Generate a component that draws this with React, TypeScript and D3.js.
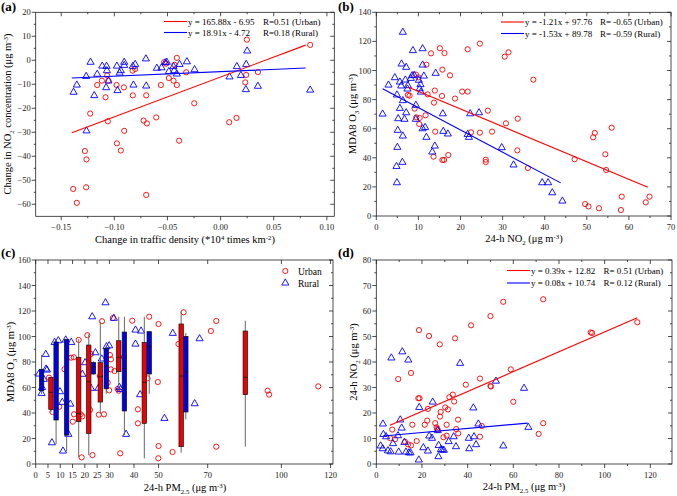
import * as d3 from 'd3';

const W = 677;
const H = 496;
const FONT = '"Liberation Serif", "Times New Roman", serif';
const RED = '#ff0000';
const BLUE = '#0000ff';

// ---- (a) change in traffic density vs change in NO2
const trafficUrban = [-0.1387, -0.1353, -0.1265, -0.1262, -0.1277, -0.1227, -0.1161, -0.1117, -0.1083, -0.1067, -0.1055, -0.1061, -0.0979, -0.0976, -0.0939, -0.0907, -0.091, -0.0826, -0.0829, -0.0804, -0.0725, -0.07, -0.0694, -0.07, -0.0606, -0.0562, -0.0531, -0.0487, -0.0443, -0.0434, -0.0412, -0.0412, -0.039, -0.0324, -0.0248, 0.0081, 0.015, 0.0232, 0.0241, 0.0247, 0.0351, 0.0843, -0.0512];
const no2ChangeUrban = [-53.6, -59.4, -52.9, -41.3, -37.8, -22.2, -10.3, -8.5, -15.4, -6.3, -8.5, -25.4, -10.3, -34.6, -37.6, -29.4, -11.3, -14.6, -4.3, -3.6, -25.1, -14.6, -26.3, -56.1, -23.8, -10.3, -0.8, -7.4, -8.5, -1.9, 1.0, -10.3, -33.5, -5.0, -17.9, -25.8, -24.0, -9.2, -6.1, 8.6, -4.9, 6.4, -1.4];
const trafficRural = [-0.1384, -0.1353, -0.1265, -0.1262, -0.1224, -0.1189, -0.1161, -0.1114, -0.1073, -0.107, -0.1077, -0.1055, -0.0976, -0.097, -0.0951, -0.0939, -0.0907, -0.0907, -0.0826, -0.082, -0.0804, -0.0703, -0.07, -0.06, -0.0556, -0.0521, -0.0506, -0.0487, -0.0443, -0.0437, -0.0412, -0.0386, -0.0317, -0.0245, 0.0084, 0.0153, 0.0191, 0.0238, 0.0241, 0.025, 0.0351, 0.0843];
const no2ChangeRural = [-13.3, -10.3, -6.7, -29.4, -0.8, -14.7, -5.8, -2.4, -2.5, -4.3, -11.4, -8.6, -2.4, -12.6, -5.3, -4.3, -0.8, -2.1, -2.5, -10.3, -1.7, 0.6, -10.7, -3.3, -3.1, -1.0, -0.8, -4.7, -2.6, -4.3, -5.7, -1.7, -0.6, -3.9, -6.9, -2.6, -6.3, -12.2, -1.7, 3.9, -10.8, -12.4];

// ---- (b) 24-h NO2 vs MDA8 O3
const no2Urban = [9.4, 10.0, 7.5, 7.9, 9.1, 9.5, 10.3, 10.2, 11.7, 11.9, 13.0, 12.2, 13.7, 13.9, 14.0, 13.6, 15.1, 15.6, 15.7, 16.2, 15.7, 16.1, 17.1, 17.5, 18.7, 20.4, 21.7, 21.7, 22.5, 24.6, 24.6, 26.0, 26.0, 26.5, 27.5, 30.8, 30.5, 31.4, 33.6, 33.5, 36.0, 37.3, 47.1, 49.6, 50.4, 52.9, 51.5, 51.9, 54.4, 54.6, 55.9, 58.1, 58.3, 64.0, 64.9];
const o3UrbanB = [97.2, 95.3, 83.2, 82.7, 73.8, 67.8, 67.4, 63.2, 69.2, 104, 111.8, 83.6, 77.9, 86.2, 58, 40.8, 115.3, 82.5, 100.6, 112, 38.5, 38.5, 41.9, 96.7, 80.7, 85.5, 85.5, 114.6, 57.5, 118.5, 57.3, 37.1, 38.7, 72.4, 58, 63.7, 109.5, 112.5, 66.9, 45.1, 33.0, 93.7, 39.0, 8.2, 6.6, 5.3, 54.1, 57.1, 42.4, 31.6, 60.7, 4.1, 13.3, 9.4, 13.3];
const no2Rural = [1.5, 2.9, 4.4, 4.8, 5.0, 4.9, 4.9, 5.2, 5.1, 5.6, 5.6, 5.9, 6.0, 6.3, 6.3, 6.2, 6.3, 6.7, 6.9, 7.1, 7.1, 7.4, 7.5, 8.2, 8.5, 8.7, 9.0, 9.4, 9.4, 10.1, 10.3, 10.5, 10.6, 11.0, 11.0, 11.0, 11.3, 11.6, 11.9, 13.3, 13.9, 14.1, 15.8, 15.9, 17.0, 21.7, 22.0, 22.3, 24.4, 29.8, 32.6, 39.4, 40.8, 41.8, 44.2];
const o3RuralB = [70.1, 90, 95.1, 34.1, 47.2, 22.9, 83.2, 66.9, 58.9, 74, 92.1, 89.4, 104.5, 79.3, 55, 36.9, 126.3, 66.5, 93.5, 102.2, 71, 87.3, 89.6, 94.6, 96.5, 113.7, 96.7, 66.5, 76.1, 93.3, 87.5, 90.3, 85.2, 103.8, 60.0, 115, 96.2, 60.9, 54.1, 44, 48.1, 98.1, 70.3, 58.2, 56.4, 56.1, 54.1, 70.3, 71, 47, 35.1, 22.9, 22.9, 16.0, 10.3];

// ---- (c) 24-h PM2.5 vs MDA8 O3
const pmUrbanC = [5.4, 6.8, 9.6, 11.7, 14.4, 15.5, 15.1, 15.6, 17.5, 18.7, 18.3, 19, 21, 22.1, 23.1, 22.5, 27, 25.7, 27.8, 26.1, 29.3, 29.9, 30.2, 30.6, 30.6, 31.4, 32.1, 33.3, 33.8, 34.4, 35.9, 39.3, 41.6, 41.6, 45.5, 46.2, 50, 49.7, 50, 49.9, 55.7, 58.1, 60.2, 71.3, 73.5, 73.5, 94.4, 95, 115];
const o3UrbanC = [67.7, 40.8, 44.9, 74.3, 83.4, 83.7, 33.2, 39, 97.3, 5.2, 39, 37.4, 101, 42.4, 7, 86.3, 112, 38.7, 39, 69, 63.8, 57.8, 85.5, 82.1, 74.2, 114.5, 72.9, 58.8, 57.5, 8.4, 83.9, 112.4, 42.9, 31.9, 67.2, 115.5, 109.8, 64.3, 14.1, 4.5, 9.4, 94.1, 119, 104.3, 112.2, 13.6, 57.5, 54.4, 60.9];
const pmRuralC = [1.3, 2.4, 2.6, 3.3, 4.2, 4.1, 4.6, 6.6, 7.7, 9.2, 9.9, 10.8, 11.1, 12.2, 13.3, 14.1, 14.5, 19, 20.1, 23, 24.3, 22.5, 25.5, 26.9, 28.4, 28.8, 29.9, 31.8, 34.1, 34.6, 36.8, 40.6, 42.9, 40.6, 42.5, 52.4, 55.8, 66.7, 64.7];
const o3RuralC = [70.6, 55.4, 60, 66.4, 74.5, 86, 73.7, 16.7, 95.4, 96.7, 56.7, 48.4, 10.2, 97.3, 23.3, 47, 95.4, 70.4, 79.5, 115.5, 87.3, 59.4, 59.4, 82.4, 126.5, 92, 92.8, 114.3, 60.1, 58.5, 23.3, 105.1, 104.3, 94.1, 54.4, 35.8, 102.5, 98.3, 47.3];

// box plots in (c)
const boxPM = [2.4, 6.2, 8.3, 12.6, 17.5, 21.6, 23.5, 26.3, 28.7, 33.8, 36.1, 44.2, 46.2, 59.2, 61.1, 85.3];
const boxGroup = ['R', 'U', 'R', 'R', 'U', 'U', 'R', 'U', 'R', 'U', 'R', 'U', 'R', 'U', 'R', 'U'];
const boxMin = [54.9, 40.4, 15.7, 9.7, 5.3, 7, 70, 39.5, 55, 57.4, 22.7, 4.4, 55, 8.9, 35, 13.6];
const boxQ1 = [57.5, 42.9, 34.5, 22.7, 33.2, 24, 70.6, 48.6, 59, 72.4, 41.6, 31.9, 70.6, 13.6, 40.8, 54.4];
const boxMed = [65.9, 56.2, 66, 47, 39.7, 64.5, 76, 68.5, 77, 83.7, 75, 64, 92, 69, 72.4, 68];
const boxQ3 = [74.3, 68, 95.7, 97.8, 83.7, 93.3, 79.7, 79.5, 90.7, 96.7, 103.5, 95.4, 103.8, 109.8, 100.1, 104.3];
const boxMax = [85.6, 68, 97, 97.8, 97.8, 101.7, 80.5, 111.6, 92, 115.5, 115.5, 115.5, 103.8, 119.5, 102.7, 112.4];

// ---- (d) 24-h PM2.5 vs 24-h NO2
const pmUrbanD = [18.7, 23.1, 27.8, 34.5, 41.5, 50, 55.6, 73.1, 9.6, 15.2, 18.4, 18.9, 22.6, 27.9, 30.2, 31.4, 32, 33.5, 34.1, 39.2, 45.4, 50, 50.2, 58.9, 60, 7, 6.1, 8.2, 12.6, 13.9, 15.2, 15.8, 17.7, 21.2, 22.3, 25.8, 26.4, 26.7, 26.9, 29.4, 30.8, 30.8, 28.2, 35, 35.9, 35.8, 45.4, 46.2, 71.1, 73.1, 93.9, 94.5, 114.3];
const no2UrbanD = [52.5, 50.2, 46.9, 49.3, 54.4, 58, 63.6, 64.6, 33.3, 35.7, 25.8, 25.8, 21.6, 18.6, 22.2, 21.4, 26.2, 27.2, 24.5, 31.1, 33.5, 30.6, 30.4, 37.1, 24.4, 13.5, 10.1, 9.7, 8.7, 7.7, 7.3, 15.4, 9, 15.4, 17, 16, 14.4, 13.8, 13.3, 10.5, 11.1, 15.4, 20.4, 13.7, 12, 17.4, 10.7, 14.9, 11.8, 16, 51.6, 51.4, 55.6];
const pmRuralD = [6.6, 11.4, 14, 36.7, 52.4, 42.5, 24.7, 18.8, 2.9, 10.5, 11.1, 44.7, 3.1, 4.3, 7.3, 9.5, 1.9, 2.8, 5.1, 6.3, 9.8, 12.3, 13, 14.3, 15, 18.6, 20.6, 22.6, 23.2, 24.4, 26.9, 27.3, 27.2, 28.3, 29, 29.6, 31.7, 33.9, 34.9, 40.5, 40.7, 42.8, 43.7, 55.6, 64.7, 66.6];
const no2RuralD = [41.6, 44, 40.8, 39.5, 32.5, 22, 24.3, 22.2, 15.7, 17.3, 14.1, 15.7, 11.6, 10.7, 8, 11.1, 7.1, 6, 5.2, 4.8, 4.7, 8.5, 4.7, 4.4, 4.4, 1.6, 6.4, 5.1, 11, 10.1, 13.1, 7.3, 2.9, 5.7, 5.5, 5.4, 8.8, 10.7, 6.8, 10.1, 6, 10.7, 7.6, 7.1, 29.7, 14.4];

// regression lines: [slope, intercept, xStart, xEnd]
const fitA = { urban: [165.88, -6.95, -0.14, 0.08], rural: [18.91, -4.72, -0.14, 0.08] };
const fitB = { urban: [-1.21, 97.76, 7.5, 64.5], rural: [-1.53, 89.78, 1.5, 43.8] };
const fitD = { urban: [0.39, 12.82, 6, 114.3], rural: [0.08, 10.74, 3, 66.3] };

// ticks
const ticksAx = [-0.15, -0.1, -0.05, 0, 0.05, 0.1];
const ticksAy = [-60, -50, -40, -30, -20, -10, 0, 10, 20];
const ticksBx = [0, 10, 20, 30, 40, 50, 60, 70];
const ticksBy = [0, 20, 40, 60, 80, 100, 120, 140];
const ticksCx = [0, 5, 10, 15, 20, 25, 30, 40, 50, 70, 100, 120];
const ticksCy = [0, 20, 40, 60, 80, 100, 120, 140, 160];
const ticksDx = [0, 20, 40, 60, 80, 100, 120];
const ticksDy = [0, 10, 20, 30, 40, 50, 60, 70, 80];

const tri = d3.symbol().type(d3.symbolTriangle).size(22)();

function Circles({ xs, ys, x, y }: any) {
  return (
    <g fill="none" stroke={RED} strokeWidth={0.9}>
      {xs.map((v: number, i: number) => <circle key={i} cx={x(v)} cy={y(ys[i])} r={2.6} />)}
    </g>
  );
}

function Triangles({ xs, ys, x, y }: any) {
  return (
    <g fill="none" stroke={BLUE} strokeWidth={0.9}>
      {xs.map((v: number, i: number) => <path key={i} d={tri!} transform={`translate(${x(v)},${y(ys[i])})`} />)}
    </g>
  );
}

function Fit({ f, x, y, color }: any) {
  const [m, b, x0, x1] = f;
  return <line x1={x(x0)} y1={y(m * x0 + b)} x2={x(x1)} y2={y(m * x1 + b)} stroke={color} strokeWidth={1.1} />;
}

function Frame({ x, y, xt, yt, fmtX, fmtY, minorX = true, minorY = true }: any) {
  const [l, r] = x.range();
  const [b, t] = y.range();
  const mids = (ts: number[]) => ts.slice(1).map((v, i) => (v + ts[i]) / 2);
  return (
    <g stroke="#222" strokeWidth={0.8}>
      <rect x={l} y={t} width={r - l} height={b - t} fill="none" />
      {xt.map((v: number, i: number) => (
        <g key={'x' + i}>
          <line x1={x(v)} x2={x(v)} y1={b} y2={b + 4} />
          <line x1={x(v)} x2={x(v)} y1={t} y2={t + 4} />
          <text x={x(v)} y={b + 13.5} textAnchor="middle" stroke="none" fill="#222" fontSize={8.5}>{fmtX(v)}</text>
        </g>
      ))}
      {minorX && mids(xt).map((v, i) => (
        <g key={'mx' + i}>
          <line x1={x(v)} x2={x(v)} y1={b} y2={b + 2} />
          <line x1={x(v)} x2={x(v)} y1={t} y2={t + 2} />
        </g>
      ))}
      {yt.map((v: number, i: number) => (
        <g key={'y' + i}>
          <line x1={l - 4} x2={l} y1={y(v)} y2={y(v)} />
          <line x1={r - 4} x2={r} y1={y(v)} y2={y(v)} />
          <text x={l - 5} y={y(v) + 3} textAnchor="end" stroke="none" fill="#222" fontSize={8.5}>{fmtY(v)}</text>
        </g>
      ))}
      {minorY && mids(yt).map((v, i) => (
        <g key={'my' + i}>
          <line x1={l - 2} x2={l} y1={y(v)} y2={y(v)} />
          <line x1={r - 2} x2={r} y1={y(v)} y2={y(v)} />
        </g>
      ))}
    </g>
  );
}

function LegendLine({ x0, y0, color, eq, rx, rtext }: any) {
  return (
    <g fontSize={9}>
      <line x1={x0} x2={x0 + 23} y1={y0} y2={y0} stroke={color} strokeWidth={1.1} />
      <text x={x0 + 24} y={y0 + 3}>{eq}</text>
      <text x={rx} y={y0 + 3}>{rtext}</text>
    </g>
  );
}

const unit = (
  <>
    (μg m<tspan dy={-3.5} fontSize="65%">-3</tspan><tspan dy={3.5}>)</tspan>
  </>
);

export default function App() {
  const fmt0 = d3.format('d');
  // (a)
  const xA = d3.scaleLinear().domain([-0.174, 0.107]).range([35.7, 334.3]);
  const yA = d3.scaleLinear().domain([-65, 20]).range([216.3, 12.3]);
  // (b)
  const xB = d3.scaleLinear().domain([0, 70]).range([376.3, 671]);
  const yB = d3.scaleLinear().domain([0, 140]).range([216, 12.3]);
  // (c)
  const xC = d3.scaleLinear().domain([0, 121]).range([35.7, 333]);
  const yC = d3.scaleLinear().domain([0, 160]).range([464, 260]);
  // (d)
  const xD = d3.scaleLinear().domain([0, 129.5]).range([376.3, 672]);
  const yD = d3.scaleLinear().domain([0, 80]).range([464, 260]);

  return (
    <svg width={W} height={H} style={{ position: 'absolute', left: 0, top: 0, background: '#fff' }} fontFamily={FONT}>
      <rect width={W} height={H} fill="#fff" />

      {/* (a) */}
      <text x={1} y={11} fontSize={13} fontWeight="bold">(a)</text>
      <Frame x={xA} y={yA} xt={ticksAx} yt={ticksAy} fmtX={d3.format('.2f')} fmtY={fmt0} />
      <Circles xs={trafficUrban} ys={no2ChangeUrban} x={xA} y={yA} />
      <Triangles xs={trafficRural} ys={no2ChangeRural} x={xA} y={yA} />
      <Fit f={fitA.urban} x={xA} y={yA} color={RED} />
      <Fit f={fitA.rural} x={xA} y={yA} color={BLUE} />
      <LegendLine x0={164} y0={21.5} color={RED} eq="y = 165.88x - 6.95" rx={263} rtext="R=0.51 (Urban)" />
      <LegendLine x0={164} y0={32.5} color={BLUE} eq="y = 18.91x - 4.72" rx={263} rtext="R=0.18 (Rural)" />
      <text x={185} y={243} textAnchor="middle" fontSize={10.5}>
        Change in traffic density (*10<tspan dy={-3.5} fontSize="65%">4</tspan><tspan dy={3.5}> times km</tspan><tspan dy={-3.5} fontSize="65%">-2</tspan><tspan dy={3.5}>)</tspan>
      </text>
      <text transform="translate(11,114) rotate(-90)" textAnchor="middle" fontSize={10.5}>
        Change in NO<tspan dy={2.5} fontSize="65%">2</tspan><tspan dy={-2.5}> concentration </tspan>{unit}
      </text>

      {/* (b) */}
      <text x={338} y={11} fontSize={13} fontWeight="bold">(b)</text>
      <Frame x={xB} y={yB} xt={ticksBx} yt={ticksBy} fmtX={fmt0} fmtY={fmt0} />
      <Circles xs={no2Urban} ys={o3UrbanB} x={xB} y={yB} />
      <Triangles xs={no2Rural} ys={o3RuralB} x={xB} y={yB} />
      <Fit f={fitB.urban} x={xB} y={yB} color={RED} />
      <Fit f={fitB.rural} x={xB} y={yB} color={BLUE} />
      <LegendLine x0={501} y0={22} color={RED} eq="y = -1.21x + 97.76" rx={600} rtext="R= -0.65 (Urban)" />
      <LegendLine x0={501} y0={33.5} color={BLUE} eq="y = -1.53x + 89.78" rx={600} rtext="R= -0.59 (Rural)" />
      <text x={524} y={242} textAnchor="middle" fontSize={10.5}>
        24-h NO<tspan dy={2.5} fontSize="65%">2</tspan><tspan dy={-2.5}> </tspan>{unit}
      </text>
      <text transform="translate(356,114) rotate(-90)" textAnchor="middle" fontSize={10.5}>
        MDA8 O<tspan dy={2.5} fontSize="65%">3</tspan><tspan dy={-2.5}> </tspan>{unit}
      </text>

      {/* (c) */}
      <text x={1} y={257} fontSize={13} fontWeight="bold">(c)</text>
      <Frame x={xC} y={yC} xt={ticksCx} yt={ticksCy} fmtX={fmt0} fmtY={fmt0} minorX={false} />
      <Circles xs={pmUrbanC} ys={o3UrbanC} x={xC} y={yC} />
      <Triangles xs={pmRuralC} ys={o3RuralC} x={xC} y={yC} />
      <g>
        {boxPM.map((p, i) => {
          const cx = xC(p);
          const col = boxGroup[i] === 'U' ? '#ee0000' : '#0000e6';
          return (
            <g key={i}>
              <line x1={cx} x2={cx} y1={yC(boxMin[i])} y2={yC(boxMax[i])} stroke="#666" strokeWidth={1} />
              <rect x={cx - 2.2} width={4.4} y={yC(boxQ3[i])} height={yC(boxQ1[i]) - yC(boxQ3[i])} fill={col} stroke="#111" strokeWidth={0.7} />
              <line x1={cx - 2.2} x2={cx + 2.2} y1={yC(boxMed[i])} y2={yC(boxMed[i])} stroke="#111" strokeWidth={0.7} />
            </g>
          );
        })}
      </g>
      <circle cx={285.3} cy={271} r={2.6} fill="none" stroke={RED} strokeWidth={0.9} />
      <text x={298} y={274.5} fontSize={9.5}>Urban</text>
      <path d={tri!} transform="translate(285.3,283)" fill="none" stroke={BLUE} strokeWidth={0.9} />
      <text x={298} y={286.5} fontSize={9.5}>Rural</text>
      <text x={185} y={491} textAnchor="middle" fontSize={10.5}>
        24-h PM<tspan dy={2.5} fontSize="65%">2.5</tspan><tspan dy={-2.5}> </tspan>{unit}
      </text>
      <text transform="translate(14,362) rotate(-90)" textAnchor="middle" fontSize={10.5}>
        MDA8 O<tspan dy={2.5} fontSize="65%">3</tspan><tspan dy={-2.5}> </tspan>{unit}
      </text>

      {/* (d) */}
      <text x={338} y={257} fontSize={13} fontWeight="bold">(d)</text>
      <Frame x={xD} y={yD} xt={ticksDx} yt={ticksDy} fmtX={fmt0} fmtY={fmt0} />
      <Circles xs={pmUrbanD} ys={no2UrbanD} x={xD} y={yD} />
      <Triangles xs={pmRuralD} ys={no2RuralD} x={xD} y={yD} />
      <Fit f={fitD.urban} x={xD} y={yD} color={RED} />
      <Fit f={fitD.rural} x={xD} y={yD} color={BLUE} />
      <LegendLine x0={507} y0={270.5} color={RED} eq="y = 0.39x + 12.82" rx={603.5} rtext="R= 0.51 (Urban)" />
      <LegendLine x0={507} y0={283} color={BLUE} eq="y = 0.08x + 10.74" rx={603.5} rtext="R= 0.12 (Rural)" />
      <text x={524} y={490} textAnchor="middle" fontSize={10.5}>
        24-h PM<tspan dy={2.5} fontSize="65%">2.5</tspan><tspan dy={-2.5}> </tspan>{unit}
      </text>
      <text transform="translate(357,362) rotate(-90)" textAnchor="middle" fontSize={10.5}>
        24-h NO<tspan dy={2.5} fontSize="65%">2</tspan><tspan dy={-2.5}> </tspan>{unit}
      </text>
    </svg>
  );
}
